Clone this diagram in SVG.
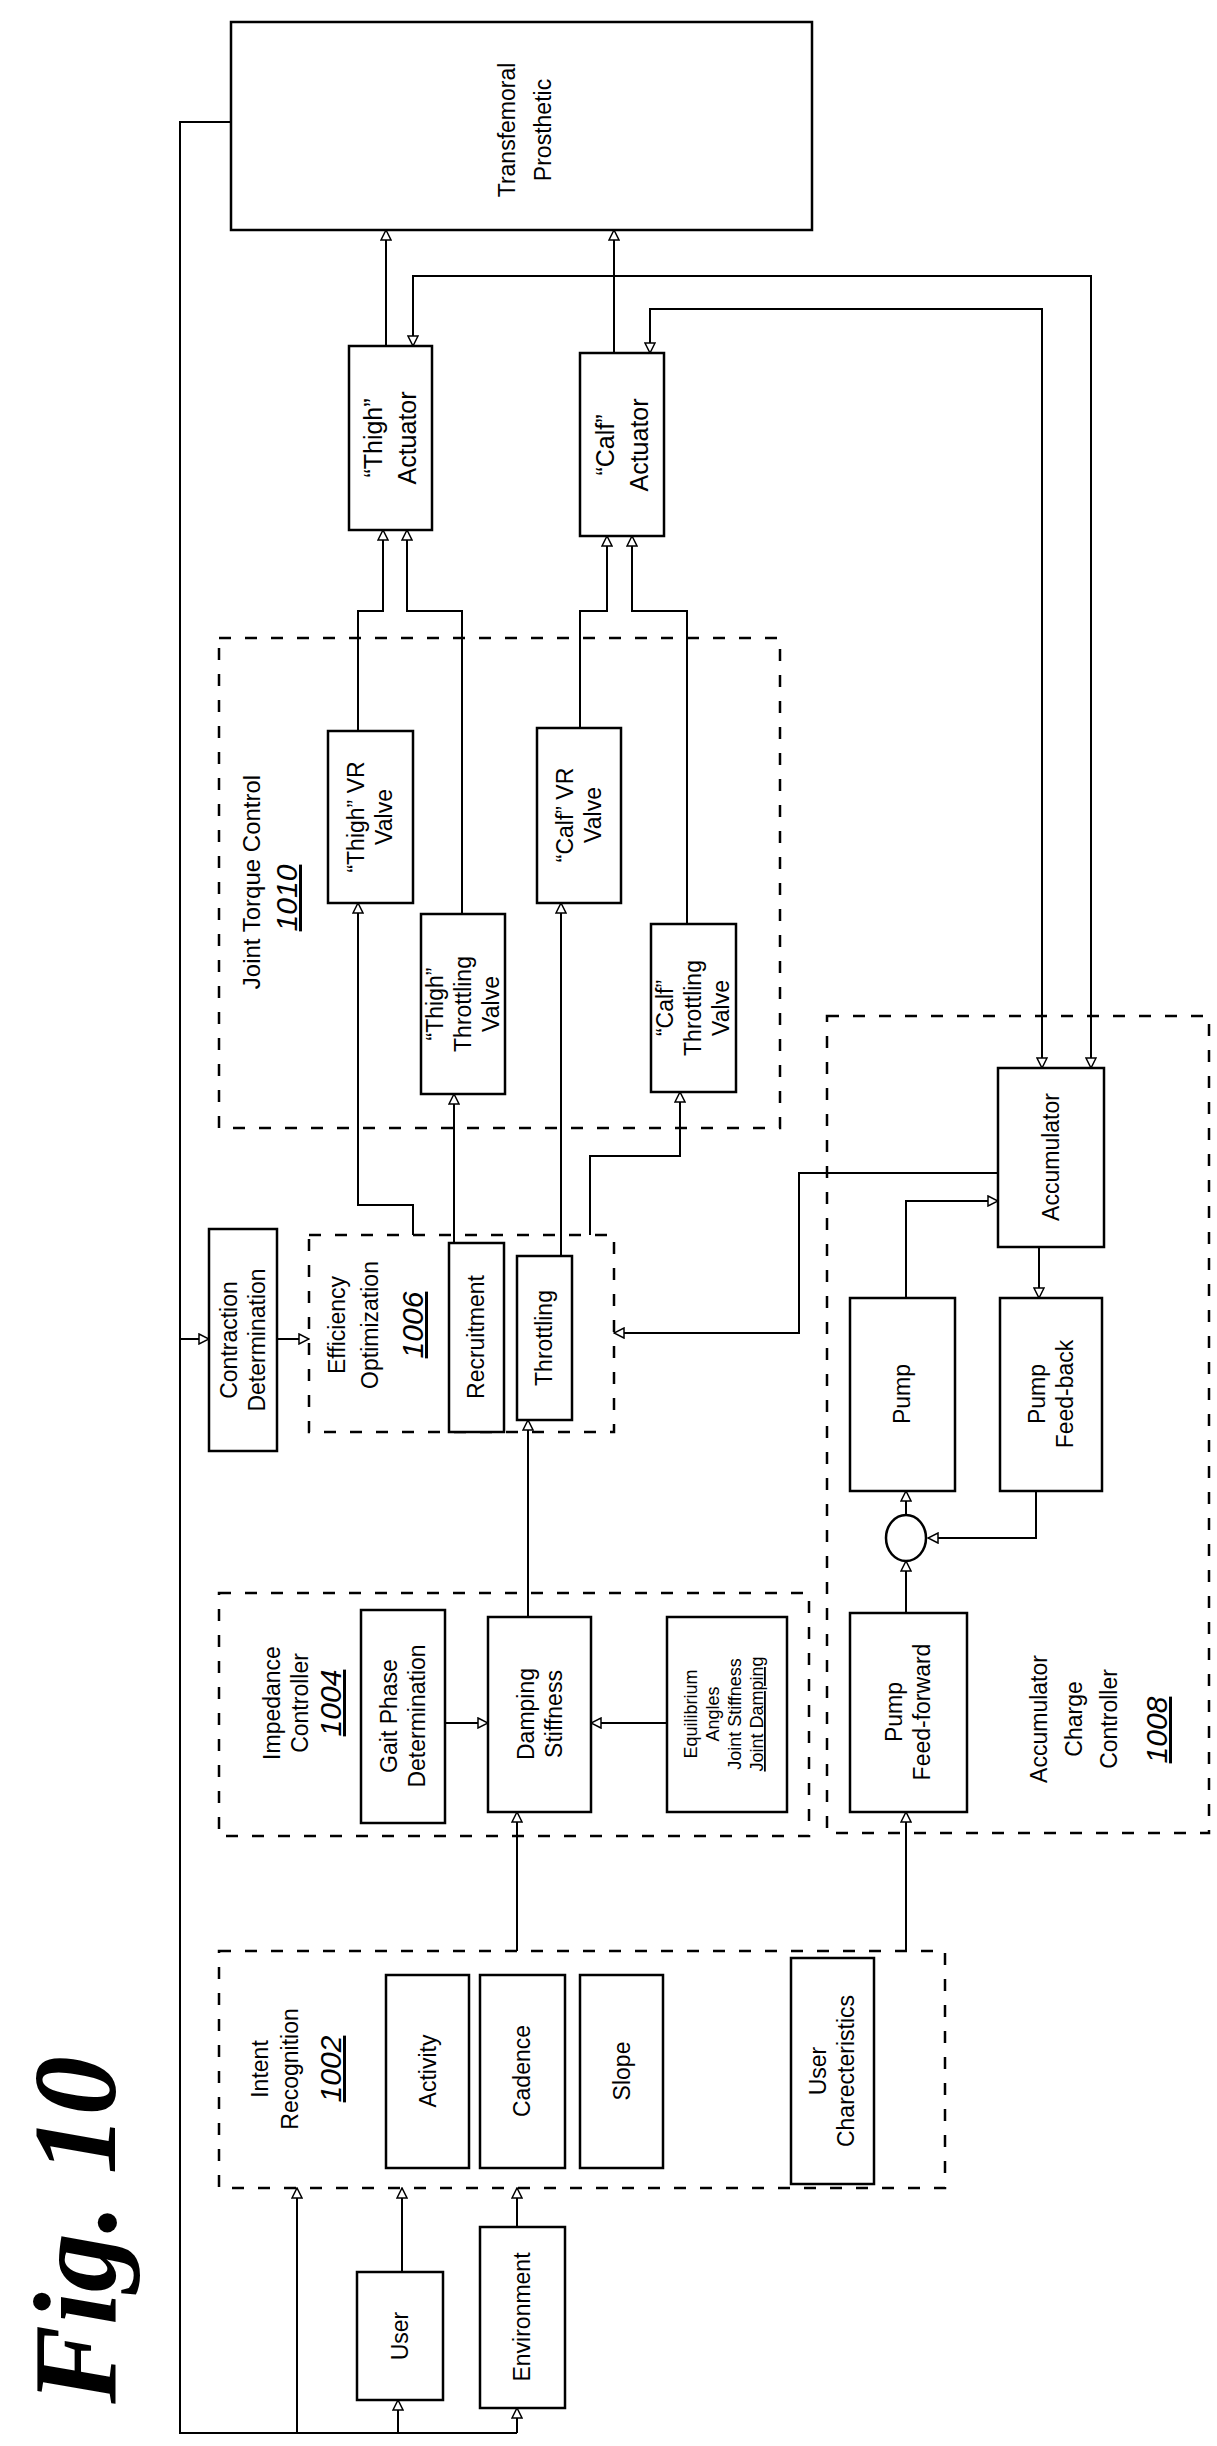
<svg xmlns="http://www.w3.org/2000/svg" width="1217" height="2446" viewBox="0 0 1217 2446">
<style>
.b{fill:#fff;stroke:#000;stroke-width:2.5}
.g{fill:none;stroke:#000;stroke-width:2.5;stroke-dasharray:12,14}
.c{fill:none;stroke:#000;stroke-width:2}
text{font-family:"Liberation Sans",Arial,sans-serif;font-size:23px;text-anchor:middle;fill:#000}
.n{font-style:italic;font-size:30px;text-decoration:underline}
.s{font-size:18px}
.fig{font-family:"Liberation Serif",serif;font-style:italic;font-weight:bold;font-size:118px}
</style>
<defs>
<marker id="a" viewBox="0 0 12 12" refX="11" refY="6" markerWidth="12" markerHeight="12" markerUnits="userSpaceOnUse" orient="auto-start-reverse">
<path d="M1,1 L11,6 L1,11 Z" fill="#fff" stroke="#000" stroke-width="1.5"/>
</marker>
</defs>
<rect width="1217" height="2446" fill="#fff"/>
<g id="groups">
<rect class="g" x="219" y="638" width="561" height="490"/>
<rect class="g" x="309" y="1235" width="305" height="197"/>
<rect class="g" x="827" y="1016" width="382" height="817"/>
<rect class="g" x="219" y="1593" width="590" height="243"/>
<rect class="g" x="219" y="1951" width="726" height="237"/>
</g>
<g id="connectors" class="c">
<polyline points="231,122 180,122 180,2433 517,2433"/>
<line x1="517" y1="2433" x2="517" y2="2408" marker-end="url(#a)"/>
<line x1="398" y1="2433" x2="398" y2="2400" marker-end="url(#a)"/>
<line x1="297" y1="2433" x2="297" y2="2188" marker-end="url(#a)"/>
<line x1="402" y1="2272" x2="402" y2="2188" marker-end="url(#a)"/>
<line x1="517" y1="2227" x2="517" y2="2188" marker-end="url(#a)"/>
<line x1="517" y1="1951" x2="517" y2="1812" marker-end="url(#a)"/>
<line x1="906" y1="1951" x2="906" y2="1812" marker-end="url(#a)"/>
<line x1="445" y1="1723" x2="488" y2="1723" marker-end="url(#a)"/>
<line x1="667" y1="1723" x2="591" y2="1723" marker-end="url(#a)"/>
<line x1="528" y1="1617" x2="528" y2="1420" marker-end="url(#a)"/>
<line x1="180" y1="1339" x2="209" y2="1339" marker-end="url(#a)"/>
<line x1="277" y1="1339" x2="309" y2="1339" marker-end="url(#a)"/>
<polyline points="413,1235 413,1205 358,1205 358,903" marker-end="url(#a)"/>
<line x1="454" y1="1243" x2="454" y2="1094" marker-end="url(#a)"/>
<line x1="561" y1="1256" x2="561" y2="903" marker-end="url(#a)"/>
<polyline points="590,1235 590,1156 680,1156 680,1092" marker-end="url(#a)"/>
<polyline points="998,1173 799,1173 799,1333 614,1333" marker-end="url(#a)"/>
<polyline points="906,1298 906,1201 998,1201" marker-end="url(#a)"/>
<line x1="1039" y1="1247" x2="1039" y2="1298" marker-end="url(#a)"/>
<polyline points="1036,1491 1036,1538 928,1538" marker-end="url(#a)"/>
<line x1="906" y1="1515" x2="906" y2="1491" marker-end="url(#a)"/>
<line x1="906" y1="1613" x2="906" y2="1561" marker-end="url(#a)"/>
<polyline points="358,731 358,611 383,611 383,530" marker-end="url(#a)"/>
<polyline points="462,914 462,611 407,611 407,530" marker-end="url(#a)"/>
<polyline points="580,728 580,611 607,611 607,536" marker-end="url(#a)"/>
<polyline points="687,924 687,611 632,611 632,536" marker-end="url(#a)"/>
<line x1="386" y1="346" x2="386" y2="230" marker-end="url(#a)"/>
<line x1="614" y1="353" x2="614" y2="230" marker-end="url(#a)"/>
<polyline points="1091,1068 1091,276 413,276 413,346" marker-start="url(#a)" marker-end="url(#a)"/>
<polyline points="1042,1068 1042,309 650,309 650,353" marker-start="url(#a)" marker-end="url(#a)"/>
</g>
<g id="transfemoral"><rect class="b" x="231" y="22" width="581" height="208"/>
<text transform="translate(525,130) rotate(-90)"><tspan x="0" y="-10">Transfemoral</tspan><tspan x="0" y="26">Prosthetic</tspan></text></g>
<g id="thigh-actuator"><rect class="b" x="349" y="346" width="83" height="184"/>
<text transform="translate(390,438) rotate(-90)" style="font-size:25px"><tspan x="0" y="-8">“Thigh”</tspan><tspan x="0" y="26">Actuator</tspan></text></g>
<g id="calf-actuator"><rect class="b" x="580" y="353" width="84" height="183"/>
<text transform="translate(622,445) rotate(-90)" style="font-size:25px"><tspan x="0" y="-8">“Calf”</tspan><tspan x="0" y="26">Actuator</tspan></text></g>
<g id="jtc-label"><text transform="translate(252,882) rotate(-90)" style="font-size:24px"><tspan x="0" y="8">Joint Torque Control</tspan></text>
<text class="n" transform="translate(287,898) rotate(-90)"><tspan x="0" y="10">1010</tspan></text></g>
<g id="thigh-vr"><rect class="b" x="328" y="731" width="85" height="172"/>
<text transform="translate(370,817) rotate(-90)"><tspan x="0" y="-6">“Thigh” VR</tspan><tspan x="0" y="22">Valve</tspan></text></g>
<g id="thigh-throttling"><rect class="b" x="421" y="914" width="84" height="180"/>
<text transform="translate(463,1004) rotate(-90)"><tspan x="0" y="-20">“Thigh”</tspan><tspan x="0" y="8">Throttling</tspan><tspan x="0" y="36">Valve</tspan></text></g>
<g id="calf-vr"><rect class="b" x="537" y="728" width="84" height="175"/>
<text transform="translate(579,815) rotate(-90)"><tspan x="0" y="-6">“Calf” VR</tspan><tspan x="0" y="22">Valve</tspan></text></g>
<g id="calf-throttling"><rect class="b" x="651" y="924" width="85" height="168"/>
<text transform="translate(693,1008) rotate(-90)"><tspan x="0" y="-20">“Calf”</tspan><tspan x="0" y="8">Throttling</tspan><tspan x="0" y="36">Valve</tspan></text></g>
<g id="contraction"><rect class="b" x="209" y="1229" width="68" height="222"/>
<text transform="translate(243,1340) rotate(-90)"><tspan x="0" y="-6">Contraction</tspan><tspan x="0" y="22">Determination</tspan></text></g>
<g id="efficiency"><text transform="translate(375,1325) rotate(-90)"><tspan x="0" y="-30">Efficiency</tspan><tspan x="0" y="3">Optimization</tspan></text>
<text class="n" transform="translate(413,1325) rotate(-90)"><tspan x="0" y="10">1006</tspan></text></g>
<g id="recruitment"><rect class="b" x="449" y="1243" width="55" height="189"/>
<text transform="translate(476,1337) rotate(-90)"><tspan x="0" y="8">Recruitment</tspan></text></g>
<g id="throttling"><rect class="b" x="517" y="1256" width="55" height="164"/>
<text transform="translate(544,1338) rotate(-90)"><tspan x="0" y="8">Throttling</tspan></text></g>
<g id="accumulator"><rect class="b" x="998" y="1068" width="106" height="179"/>
<text transform="translate(1051,1157) rotate(-90)"><tspan x="0" y="8">Accumulator</tspan></text></g>
<g id="pump"><rect class="b" x="850" y="1298" width="105" height="193"/>
<text transform="translate(902,1394) rotate(-90)"><tspan x="0" y="8">Pump</tspan></text></g>
<g id="pump-feedback"><rect class="b" x="1000" y="1298" width="102" height="193"/>
<text transform="translate(1051,1394) rotate(-90)"><tspan x="0" y="-6">Pump</tspan><tspan x="0" y="22">Feed-back</tspan></text></g>
<g id="summer"><ellipse class="b" cx="906" cy="1538" rx="20" ry="23"/></g>
<g id="pump-ff"><rect class="b" x="850" y="1613" width="117" height="199"/>
<text transform="translate(908,1712) rotate(-90)"><tspan x="0" y="-6">Pump</tspan><tspan x="0" y="22">Feed-forward</tspan></text></g>
<g id="acc-label"><text transform="translate(1075,1719) rotate(-90)"><tspan x="0" y="-28">Accumulator</tspan><tspan x="0" y="7">Charge</tspan><tspan x="0" y="42">Controller</tspan></text>
<text class="n" transform="translate(1157,1730) rotate(-90)"><tspan x="0" y="10">1008</tspan></text></g>
<g id="imp-label"><text transform="translate(285,1703) rotate(-90)"><tspan x="0" y="-5">Impedance</tspan><tspan x="0" y="23">Controller</tspan></text>
<text class="n" transform="translate(331,1703) rotate(-90)"><tspan x="0" y="10">1004</tspan></text></g>
<g id="gait"><rect class="b" x="361" y="1610" width="84" height="213"/>
<text transform="translate(403,1716) rotate(-90)"><tspan x="0" y="-6">Gait Phase</tspan><tspan x="0" y="22">Determination</tspan></text></g>
<g id="damping"><rect class="b" x="488" y="1617" width="103" height="195"/>
<text transform="translate(540,1714) rotate(-90)"><tspan x="0" y="-6">Damping</tspan><tspan x="0" y="22">Stiffness</tspan></text></g>
<g id="equilibrium"><rect class="b" x="667" y="1617" width="120" height="195"/>
<text class="s" transform="translate(727,1714) rotate(-90)"><tspan x="0" y="-30">Equilibrium</tspan><tspan x="0" y="-8">Angles</tspan><tspan x="0" y="14">Joint Stiffness</tspan><tspan x="0" y="36" text-decoration="underline">Joint Damping</tspan></text></g>
<g id="intent-label"><text transform="translate(276,2069) rotate(-90)"><tspan x="0" y="-8">Intent</tspan><tspan x="0" y="22">Recognition</tspan></text>
<text class="n" transform="translate(331,2069) rotate(-90)"><tspan x="0" y="10">1002</tspan></text></g>
<g id="activity"><rect class="b" x="386" y="1975" width="83" height="193"/>
<text transform="translate(428,2071) rotate(-90)"><tspan x="0" y="8">Activity</tspan></text></g>
<g id="cadence"><rect class="b" x="480" y="1975" width="85" height="193"/>
<text transform="translate(522,2071) rotate(-90)"><tspan x="0" y="8">Cadence</tspan></text></g>
<g id="slope"><rect class="b" x="580" y="1975" width="83" height="193"/>
<text transform="translate(622,2071) rotate(-90)"><tspan x="0" y="8">Slope</tspan></text></g>
<g id="user-char"><rect class="b" x="791" y="1958" width="83" height="226"/>
<text transform="translate(832,2071) rotate(-90)"><tspan x="0" y="-6">User</tspan><tspan x="0" y="22">Charecteristics</tspan></text></g>
<g id="user"><rect class="b" x="357" y="2272" width="86" height="128"/>
<text transform="translate(400,2336) rotate(-90)"><tspan x="0" y="8">User</tspan></text></g>
<g id="environment"><rect class="b" x="480" y="2227" width="85" height="181"/>
<text transform="translate(522,2317) rotate(-90)"><tspan x="0" y="8">Environment</tspan></text></g>
<g id="fig-label"><text class="fig" transform="translate(75,2230) rotate(-90)"><tspan x="0" y="40">Fig. 10</tspan></text></g>
</svg>
